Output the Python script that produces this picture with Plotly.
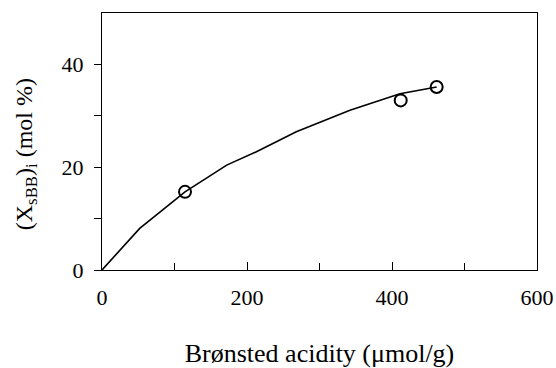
import plotly.graph_objects as go

curve_x = [0, 52, 82, 114.5, 172, 213, 268, 342, 411, 461.6]
curve_y = [0, 8.1, 11.5, 15.2, 20.4, 23.0, 26.9, 31.1, 34.3, 35.6]
pts_x = [114.5, 412, 461.6]
pts_y = [15.2, 33.0, 35.6]

font = "Liberation Serif, Times New Roman, serif"

fig = go.Figure()
fig.add_trace(go.Scatter(x=curve_x, y=curve_y, mode="lines",
                         line=dict(color="black", width=1.6), showlegend=False))
fig.add_trace(go.Scatter(x=pts_x, y=pts_y, mode="markers",
                         marker=dict(symbol="circle-open", size=12, color="black",
                                     line=dict(width=2, color="black")),
                         showlegend=False))

fig.update_layout(
    width=556, height=368,
    margin=dict(l=102, r=19, t=13, b=98),
    paper_bgcolor="white", plot_bgcolor="white",
    font=dict(family=font, size=22, color="black"),
    xaxis=dict(range=[0, 600], tickvals=[0, 200, 400, 600], ticks="inside",
               ticklen=8, tickwidth=1, tickcolor="black", automargin=False,
               ticklabelstandoff=8,
               minor=dict(tickvals=[100, 300, 500], ticks="inside", ticklen=7,
                          tickcolor="black", tickwidth=1),
               showline=True, linecolor="black", linewidth=1, mirror=True,
               showgrid=False, zeroline=False,
               title=dict(text="Brønsted acidity (μmol/g)", standoff=35,
                          font=dict(family=font, size=26, color="black")),
               tickfont=dict(family=font, size=22, color="black")),
    yaxis=dict(range=[0, 50], tickvals=[0, 20, 40], ticks="outside",
               ticklen=7, tickwidth=1, tickcolor="black", automargin=False,
               ticklabelstandoff=6,
               minor=dict(tickvals=[10, 30], ticks="outside", ticklen=7,
                          tickcolor="black", tickwidth=1),
               showline=True, linecolor="black", linewidth=1, mirror=True,
               showgrid=False, zeroline=False,
               tickfont=dict(family=font, size=22, color="black")),
    annotations=[dict(text="(X<sub>sBB</sub>)<sub>i</sub> (mol %)",
                      xref="paper", yref="paper", x=-0.175, y=0.45,
                      xanchor="center", yanchor="middle", textangle=-90,
                      showarrow=False,
                      font=dict(family=font, size=24, color="black"))],
)

fig.write_html("out.html")
